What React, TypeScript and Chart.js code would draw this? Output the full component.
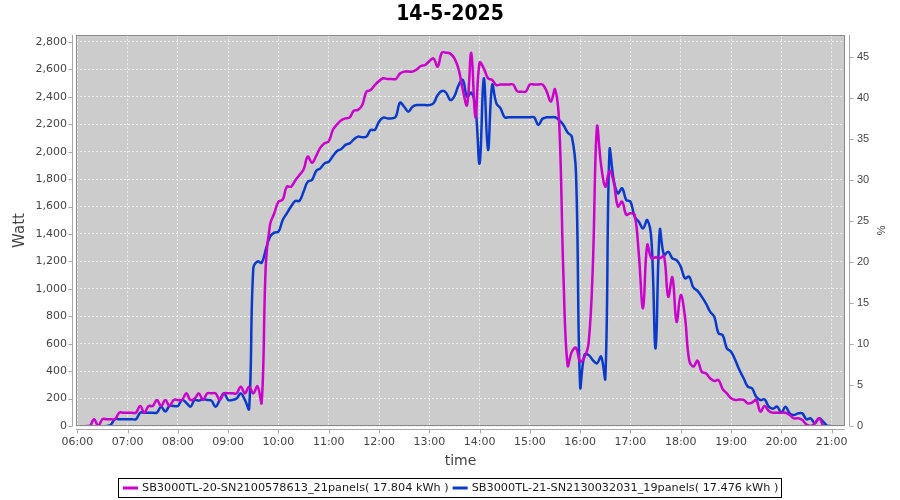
import React, { useEffect, useRef } from 'react';
import { Chart, registerables } from 'chart.js';

Chart.register(...registerables);

const times = [
  '06:00','06:05','06:10','06:15','06:20','06:25','06:30','06:35','06:40','06:45','06:50','06:55',
  '07:00','07:05','07:10','07:15','07:20','07:25','07:30','07:35','07:40','07:45','07:50','07:55',
  '08:00','08:05','08:10','08:15','08:20','08:25','08:30','08:35','08:40','08:45','08:50','08:55',
  '09:00','09:05','09:10','09:15','09:20','09:25','09:30','09:35','09:40','09:45','09:50','09:55',
  '10:00','10:05','10:10','10:15','10:20','10:25','10:30','10:35','10:40','10:45','10:50','10:55',
  '11:00','11:05','11:10','11:15','11:20','11:25','11:30','11:35','11:40','11:45','11:50','11:55',
  '12:00','12:05','12:10','12:15','12:20','12:25','12:30','12:35','12:40','12:45','12:50','12:55',
  '13:00','13:05','13:10','13:15','13:20','13:25','13:30','13:35','13:40','13:45','13:50','13:55',
  '14:00','14:05','14:10','14:15','14:20','14:25','14:30','14:35','14:40','14:45','14:50','14:55',
  '15:00','15:05','15:10','15:15','15:20','15:25','15:30','15:35','15:40','15:45','15:50','15:55',
  '16:00','16:05','16:10','16:15','16:20','16:25','16:30','16:35','16:40','16:45','16:50','16:55',
  '17:00','17:05','17:10','17:15','17:20','17:25','17:30','17:35','17:40','17:45','17:50','17:55',
  '18:00','18:05','18:10','18:15','18:20','18:25','18:30','18:35','18:40','18:45','18:50','18:55',
  '19:00','19:05','19:10','19:15','19:20','19:25','19:30','19:35','19:40','19:45','19:50','19:55',
  '20:00','20:05','20:10','20:15','20:20','20:25','20:30','20:35','20:40','20:45','20:50','20:55',
  '21:00',
];

// SB3000TL-20 (Watt)
const sb20 = [
  null, null, 0, 0, 50, 0, 50, 50, 50, 50, 97, 97,
  97, 97, 97, 146, 97, 146, 146, 190, 146, 190, 146, 190,
  190, 190, 238, 190, 200, 238, 190, 238, 238, 238, 190, 238,
  238, 238, 238, 287, 238, 287, 238, 290, 170, 1188, 1470, 1551,
  1636, 1650, 1745, 1745, 1790, 1830, 1870, 1965, 1920, 1970, 2030, 2061,
  2075, 2160, 2200, 2230, 2243, 2250, 2300, 2305, 2340, 2438, 2450, 2486,
  2515, 2535, 2530, 2530, 2530, 2570, 2584, 2584, 2584, 2600, 2625, 2632,
  2660, 2680, 2620, 2722, 2722, 2715, 2680, 2600, 2450, 2340, 2720, 2250,
  2650, 2608, 2535, 2523, 2486, 2490, 2490, 2490, 2490, 2440, 2438, 2438,
  2490, 2490, 2490, 2490, 2440, 2365, 2455, 2200, 1100, 440, 540, 570,
  470, 500, 600, 1150, 2180, 1900, 1745, 1860, 1780, 1600, 1636, 1540,
  1551, 1540, 1250, 860, 1320, 1223, 1230, 1223, 1240, 943, 1084, 760,
  955, 797, 481, 433, 476, 396, 384, 348, 328, 335, 270, 238,
  202, 190, 194, 190, 165, 170, 190, 105, 146, 110, 97, 97,
  97, 97, 80, 56, 56, 44, 10, 0, 20, 56, 0, null,
  null,
];

// SB3000TL-21 (Watt)
const sb21 = [
  null, null, null, null, null, null, null, 0, 10, 50, 50, 50,
  50, 50, 50, 97, 97, 97, 97, 97, 141, 105, 146, 146,
  146, 190, 170, 141, 190, 185, 195, 190, 185, 141, 190, 238,
  190, 190, 200, 238, 190, 125, 1150, 1200, 1190, 1290, 1380, 1410,
  1417, 1500, 1551, 1600, 1641, 1641, 1709, 1782, 1794, 1860, 1879, 1915,
  1927, 1968, 2005, 2020, 2050, 2061, 2090, 2110, 2105, 2110, 2158, 2160,
  2219, 2248, 2243, 2243, 2255, 2358, 2328, 2292, 2328, 2340, 2340, 2340,
  2340, 2353, 2413, 2443, 2430, 2377, 2406, 2486, 2523, 2401, 2430, 2330,
  1915, 2535, 2012, 2486, 2353, 2316, 2251, 2251, 2251, 2251, 2251, 2251,
  2251, 2251, 2195, 2240, 2251, 2251, 2251, 2230, 2195, 2140, 2110, 1842,
  287, 518, 518, 481, 457, 506, 348, 2012, 1794, 1697, 1733, 1648,
  1636, 1526, 1490, 1441, 1502, 1356, 566, 1429, 1247, 1271, 1222, 1210,
  1162, 1077, 1089, 1010, 985, 943, 894, 834, 797, 676, 663, 566,
  542, 481, 408, 348, 287, 275, 214, 190, 194, 141, 126, 141,
  97, 141, 92, 80, 92, 92, 49, 56, 19, 56, 32, 0,
  0,
];

const hourLabels = [
  '06:00','07:00','08:00','09:00','10:00','11:00','12:00','13:00',
  '14:00','15:00','16:00','17:00','18:00','19:00','20:00','21:00',
];

const seriesLabels = [
  'SB3000TL-20-SN2100578613_21panels( 17.804 kWh )',
  'SB3000TL-21-SN2130032031_19panels( 17.476 kWh )',
];

const chartTitle = '14-5-2025';

const SANS = "'DejaVu Sans', sans-serif";

const toHours = (s: string) => {
  const [h, m] = s.split(':').map(Number);
  return h + m / 60;
};

const toPoints = (vals: (number | null)[]) =>
  times
    .map((t, i) => ({ x: toHours(t), y: vals[i] }))
    .filter((p) => p.y !== null);

const framePlugin = {
  id: 'frame',
  beforeDraw(chart: any) {
    const { ctx, chartArea: a } = chart;
    ctx.save();
    ctx.fillStyle = '#cccccc';
    ctx.fillRect(a.left, a.top, a.right - a.left, a.bottom - a.top);
    ctx.restore();
  },
  afterDatasetsDraw(chart: any) {
    const { ctx, chartArea: a, scales } = chart;
    ctx.save();
    ctx.strokeStyle = '#8a8a8a';
    ctx.lineWidth = 1;
    ctx.strokeRect(a.left + 0.5, a.top + 0.5, a.right - a.left - 1, a.bottom - a.top - 1);

    ctx.strokeStyle = '#a8a8a8';
    ctx.beginPath();
    const lx = a.left - 3.5;
    ctx.moveTo(lx, a.top);
    ctx.lineTo(lx, a.bottom);
    scales.y.ticks.forEach((t: any) => {
      const y = Math.round(scales.y.getPixelForValue(t.value)) + 0.5;
      ctx.moveTo(lx - 4, y);
      ctx.lineTo(lx, y);
    });
    const rx = a.right + 4.5;
    ctx.moveTo(rx, a.top);
    ctx.lineTo(rx, a.bottom);
    scales.y1.ticks.forEach((t: any) => {
      const y = Math.round(scales.y1.getPixelForValue(t.value)) + 0.5;
      ctx.moveTo(rx, y);
      ctx.lineTo(rx + 4, y);
    });
    const by = a.bottom + 3.5;
    ctx.moveTo(a.left, by);
    ctx.lineTo(a.right, by);
    scales.x.ticks.forEach((t: any) => {
      const x = Math.round(scales.x.getPixelForValue(t.value)) + 0.5;
      ctx.moveTo(x, by);
      ctx.lineTo(x, by + 4);
    });
    ctx.stroke();
    ctx.restore();
  },
  afterDraw(chart: any) {
    const { ctx } = chart;
    ctx.save();
    ctx.font = `11.25px ${SANS}`;
    const items = chart.data.datasets.map((ds: any) => ({
      text: ds.label,
      color: ds.borderColor,
      w: ctx.measureText(ds.label).width,
    }));
    const lineW = 15;
    const gap = 4;
    const pad = 4;
    let total = pad * 2;
    items.forEach((it: any, i: number) => {
      total += lineW + gap + it.w + (i < items.length - 1 ? gap : 0);
    });
    const left = Math.round(chart.width / 2 - total / 2);
    const top = 478;
    const h = 19;
    ctx.strokeStyle = '#000';
    ctx.lineWidth = 1;
    ctx.strokeRect(left + 0.5, top + 0.5, Math.round(total), h);
    let x = left + pad + 1;
    const cy = top + h / 2 + 0.5;
    items.forEach((it: any) => {
      ctx.strokeStyle = it.color;
      ctx.lineWidth = 3;
      ctx.beginPath();
      ctx.moveTo(x, cy);
      ctx.lineTo(x + lineW, cy);
      ctx.stroke();
      x += lineW + gap;
      ctx.fillStyle = '#1a1a1a';
      ctx.textBaseline = 'middle';
      ctx.textAlign = 'left';
      ctx.fillText(it.text, x, cy);
      x += it.w + gap;
    });
    ctx.restore();
  },
};

export default function App() {
  const ref = useRef<HTMLCanvasElement | null>(null);

  useEffect(() => {
    if (!ref.current) return;
    const chart = new Chart(ref.current, {
      type: 'line',
      data: {
        datasets: [
          {
            label: seriesLabels[0],
            data: toPoints(sb20) as any,
            borderColor: '#cc00cc',
            backgroundColor: '#cc00cc',
            borderWidth: 2.5,
            pointRadius: 0,
            tension: 0.4,
            fill: false,
          },
          {
            label: seriesLabels[1],
            data: toPoints(sb21) as any,
            borderColor: '#0a3acc',
            backgroundColor: '#0a3acc',
            borderWidth: 2.5,
            pointRadius: 0,
            tension: 0.4,
            fill: false,
          },
        ],
      },
      options: {
        responsive: false,
        animation: false,
        devicePixelRatio: 1,
        layout: { padding: 0 },
        plugins: {
          legend: { display: false },
          tooltip: { enabled: false },
          title: {
            display: true,
            text: chartTitle,
            color: '#000',
            font: { family: "'DejaVu Sans Condensed', 'DejaVu Sans', sans-serif", size: 21, weight: 'bold' },
            padding: { top: 2.4, bottom: 7.4 },
          },
        },
        scales: {
          x: {
            type: 'linear',
            position: 'bottom',
            min: 5.974,
            max: 21.266,
            afterFit: (s: any) => { s.height = 74; },
            ticks: {
              stepSize: 1,
              includeBounds: false,
              autoSkip: false,
              maxRotation: 0,
              padding: 10,
              color: '#444',
              font: { family: SANS, size: 11 },
              callback: (v: any) => hourLabels[Math.round(Number(v)) - 6] ?? '',
            },
            grid: { color: '#ececec', lineWidth: 1, drawTicks: false },
            border: { display: false, dash: [2, 2] },
            title: {
              display: true,
              text: 'time',
              color: '#444',
              font: { family: SANS, size: 14 },
              padding: { top: 0, bottom: 30 },
            },
          },
          y: {
            type: 'linear',
            position: 'left',
            min: 0,
            max: 2851,
            afterFit: (s: any) => { s.width = 76; },
            ticks: {
              stepSize: 200,
              includeBounds: false,
              padding: 9,
              color: '#444',
              font: { family: SANS, size: 11 },
              callback: (v: any) => Number(v).toLocaleString('en-US'),
            },
            grid: { color: '#ececec', lineWidth: 1, drawTicks: false },
            border: { display: false, dash: [2, 2] },
            title: {
              display: true,
              text: 'Watt',
              color: '#444',
              font: { family: SANS, size: 15 },
              padding: { top: 11, bottom: 0 },
            },
          },
          y1: {
            type: 'linear',
            position: 'right',
            min: 0,
            max: 47.68,
            afterFit: (s: any) => { s.width = 55; },
            ticks: {
              stepSize: 5,
              includeBounds: false,
              padding: 12,
              color: '#444',
              font: { family: "'Liberation Sans', Arial, sans-serif", size: 11 },
            },
            grid: { drawOnChartArea: false, drawTicks: false },
            border: { display: false },
            title: {
              display: true,
              text: '%',
              color: '#444',
              font: { family: "'Liberation Sans', Arial, sans-serif", size: 11 },
              padding: { top: 13, bottom: 0 },
            },
          },
        },
      },
      plugins: [framePlugin],
    });
    return () => chart.destroy();
  }, []);

  return (
    <div style={{ position: 'absolute', left: 0, top: 0, width: 900, height: 500, background: '#fff' }}>
      <canvas ref={ref} width={900} height={500} style={{ display: 'block' }} />
    </div>
  );
}
